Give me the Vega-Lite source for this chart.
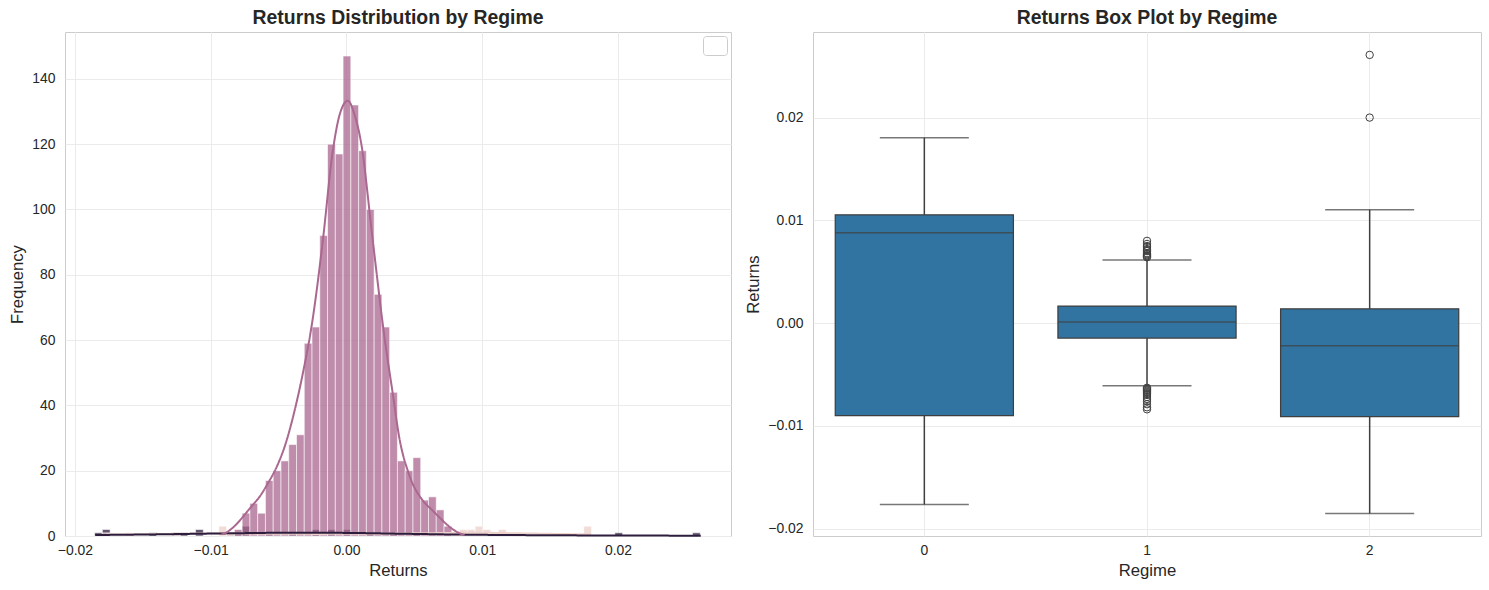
{
  "$schema": "https://vega.github.io/schema/vega-lite/v6.json",
  "background": "white",
  "padding": {"left": 9, "top": 7, "right": 9, "bottom": 8},
  "config": {
    "font": "Liberation Sans",
    "view": {"stroke": "#cccccc", "strokeWidth": 1},
    "axis": {
      "domain": false,
      "ticks": false,
      "tickSize": 0,
      "labelFontSize": 13.9,
      "labelColor": "#262626",
      "labelPadding": 10,
      "titleFontSize": 16.7,
      "titleFontWeight": "normal",
      "titleColor": "#262626",
      "titlePadding": 5,
      "gridColor": "#ebebeb",
      "gridWidth": 1
    },
    "axisX": {"labelPadding": 7, "titlePadding": 6},
    "title": {"fontSize": 19.4, "fontWeight": "bold", "color": "#262626", "offset": 4},
    "concat": {"spacing": 13}
  },
  "resolve": {
    "legend": {"strokeDash": "independent", "color": "independent"},
    "scale": {"strokeDash": "independent", "color": "independent"}
  },
  "datasets": {
    "hist": [
      {"r": "2", "x0": -0.01855, "x1": -0.017978, "n": 1},
      {"r": "2", "x0": -0.017978, "x1": -0.017406, "n": 2},
      {"r": "2", "x0": -0.014546, "x1": -0.013974, "n": 1},
      {"r": "2", "x0": -0.01283, "x1": -0.012258, "n": 1},
      {"r": "2", "x0": -0.012258, "x1": -0.011686, "n": 1},
      {"r": "2", "x0": -0.011114, "x1": -0.010542, "n": 2},
      {"r": "2", "x0": -0.008254, "x1": -0.007682, "n": 1},
      {"r": "2", "x0": -0.007682, "x1": -0.00711, "n": 3},
      {"r": "2", "x0": -0.005966, "x1": -0.005394, "n": 1},
      {"r": "2", "x0": -0.00425, "x1": -0.003678, "n": 1},
      {"r": "2", "x0": -0.002534, "x1": -0.001962, "n": 2},
      {"r": "2", "x0": -0.00139, "x1": -0.000818, "n": 2},
      {"r": "2", "x0": -0.000246, "x1": 0.000326, "n": 2},
      {"r": "2", "x0": 0.00147, "x1": 0.002042, "n": 1},
      {"r": "2", "x0": 0.003186, "x1": 0.003758, "n": 1},
      {"r": "2", "x0": 0.004902, "x1": 0.005474, "n": 1},
      {"r": "2", "x0": 0.010622, "x1": 0.011194, "n": 1},
      {"r": "2", "x0": 0.019774, "x1": 0.020346, "n": 1},
      {"r": "2", "x0": 0.025494, "x1": 0.026066, "n": 1},
      {"r": "1", "x0": -0.008826, "x1": -0.008254, "n": 1},
      {"r": "1", "x0": -0.008254, "x1": -0.007682, "n": 2},
      {"r": "1", "x0": -0.007682, "x1": -0.00711, "n": 7},
      {"r": "1", "x0": -0.00711, "x1": -0.006538, "n": 10},
      {"r": "1", "x0": -0.006538, "x1": -0.005966, "n": 7},
      {"r": "1", "x0": -0.005966, "x1": -0.005394, "n": 17},
      {"r": "1", "x0": -0.005394, "x1": -0.004822, "n": 20},
      {"r": "1", "x0": -0.004822, "x1": -0.00425, "n": 23},
      {"r": "1", "x0": -0.00425, "x1": -0.003678, "n": 28},
      {"r": "1", "x0": -0.003678, "x1": -0.003106, "n": 31},
      {"r": "1", "x0": -0.003106, "x1": -0.002534, "n": 59},
      {"r": "1", "x0": -0.002534, "x1": -0.001962, "n": 64},
      {"r": "1", "x0": -0.001962, "x1": -0.00139, "n": 92},
      {"r": "1", "x0": -0.00139, "x1": -0.000818, "n": 120},
      {"r": "1", "x0": -0.000818, "x1": -0.000246, "n": 117},
      {"r": "1", "x0": -0.000246, "x1": 0.000326, "n": 147},
      {"r": "1", "x0": 0.000326, "x1": 0.000898, "n": 132},
      {"r": "1", "x0": 0.000898, "x1": 0.00147, "n": 118},
      {"r": "1", "x0": 0.00147, "x1": 0.002042, "n": 100},
      {"r": "1", "x0": 0.002042, "x1": 0.002614, "n": 74},
      {"r": "1", "x0": 0.002614, "x1": 0.003186, "n": 64},
      {"r": "1", "x0": 0.003186, "x1": 0.003758, "n": 44},
      {"r": "1", "x0": 0.003758, "x1": 0.00433, "n": 23},
      {"r": "1", "x0": 0.00433, "x1": 0.004902, "n": 20},
      {"r": "1", "x0": 0.004902, "x1": 0.005474, "n": 24},
      {"r": "1", "x0": 0.005474, "x1": 0.006046, "n": 11},
      {"r": "1", "x0": 0.006046, "x1": 0.006618, "n": 12},
      {"r": "1", "x0": 0.006618, "x1": 0.00719, "n": 8},
      {"r": "1", "x0": 0.00719, "x1": 0.007762, "n": 3},
      {"r": "1", "x0": 0.007762, "x1": 0.008334, "n": 1},
      {"r": "0", "x0": -0.017978, "x1": -0.017406, "n": 1},
      {"r": "0", "x0": -0.016262, "x1": -0.01569, "n": 1},
      {"r": "0", "x0": -0.01283, "x1": -0.012258, "n": 1},
      {"r": "0", "x0": -0.009398, "x1": -0.008826, "n": 3},
      {"r": "0", "x0": -0.008826, "x1": -0.008254, "n": 1},
      {"r": "0", "x0": 0.007762, "x1": 0.008334, "n": 1},
      {"r": "0", "x0": 0.008334, "x1": 0.008906, "n": 2},
      {"r": "0", "x0": 0.008906, "x1": 0.009478, "n": 2},
      {"r": "0", "x0": 0.009478, "x1": 0.01005, "n": 3},
      {"r": "0", "x0": 0.01005, "x1": 0.010622, "n": 2},
      {"r": "0", "x0": 0.010622, "x1": 0.011194, "n": 1},
      {"r": "0", "x0": 0.011194, "x1": 0.011766, "n": 2},
      {"r": "0", "x0": 0.011766, "x1": 0.012338, "n": 1},
      {"r": "0", "x0": 0.01291, "x1": 0.013482, "n": 1},
      {"r": "0", "x0": 0.017486, "x1": 0.018058, "n": 3}
    ],
    "kde": [
      {"r": "0", "x": -0.0177, "n": 0.5},
      {"r": "0", "x": -0.014, "n": 0.6},
      {"r": "0", "x": -0.011, "n": 0.75},
      {"r": "0", "x": -0.009, "n": 0.8},
      {"r": "0", "x": -0.006, "n": 0.7},
      {"r": "0", "x": -0.002, "n": 0.65},
      {"r": "0", "x": 0.002, "n": 0.7},
      {"r": "0", "x": 0.006, "n": 0.85},
      {"r": "0", "x": 0.0095, "n": 1.0},
      {"r": "0", "x": 0.013, "n": 0.8},
      {"r": "0", "x": 0.016, "n": 0.6},
      {"r": "0", "x": 0.018, "n": 0.5},
      {"r": "2", "x": -0.0185, "n": 0.3},
      {"r": "2", "x": -0.014, "n": 0.5},
      {"r": "2", "x": -0.009, "n": 0.8},
      {"r": "2", "x": -0.004, "n": 1.0},
      {"r": "2", "x": 0.0, "n": 0.95},
      {"r": "2", "x": 0.004, "n": 0.7},
      {"r": "2", "x": 0.009, "n": 0.4},
      {"r": "2", "x": 0.014, "n": 0.25},
      {"r": "2", "x": 0.02, "n": 0.15},
      {"r": "2", "x": 0.0261, "n": 0.1},
      {"r": "1", "x": -0.0092, "n": 0.5},
      {"r": "1", "x": -0.0088, "n": 1.2},
      {"r": "1", "x": -0.0083, "n": 2.8},
      {"r": "1", "x": -0.0078, "n": 5},
      {"r": "1", "x": -0.0074, "n": 7},
      {"r": "1", "x": -0.0069, "n": 9.5},
      {"r": "1", "x": -0.0064, "n": 12},
      {"r": "1", "x": -0.0058, "n": 16},
      {"r": "1", "x": -0.0051, "n": 21.5},
      {"r": "1", "x": -0.0045, "n": 28},
      {"r": "1", "x": -0.0039, "n": 37},
      {"r": "1", "x": -0.0032, "n": 50},
      {"r": "1", "x": -0.0025, "n": 66},
      {"r": "1", "x": -0.00175, "n": 90},
      {"r": "1", "x": -0.001, "n": 118},
      {"r": "1", "x": -0.0005, "n": 129},
      {"r": "1", "x": 0.0001, "n": 133.3},
      {"r": "1", "x": 0.0006, "n": 129},
      {"r": "1", "x": 0.0011, "n": 120},
      {"r": "1", "x": 0.0019, "n": 92},
      {"r": "1", "x": 0.0028, "n": 61},
      {"r": "1", "x": 0.0034, "n": 44},
      {"r": "1", "x": 0.0039, "n": 30},
      {"r": "1", "x": 0.0046, "n": 19},
      {"r": "1", "x": 0.0056, "n": 11},
      {"r": "1", "x": 0.0063, "n": 8},
      {"r": "1", "x": 0.0069, "n": 5.5},
      {"r": "1", "x": 0.0076, "n": 2.8},
      {"r": "1", "x": 0.0083, "n": 0.9},
      {"r": "1", "x": 0.0087, "n": 0.3}
    ],
    "box": [
      {"r": "0", "lo": -0.01767, "q1": -0.00902, "med": 0.00878, "q3": 0.01053, "hi": 0.01803},
      {"r": "1", "lo": -0.0061, "q1": -0.00146, "med": 0.0001, "q3": 0.00165, "hi": 0.00613},
      {"r": "2", "lo": -0.01855, "q1": -0.00911, "med": -0.00221, "q3": 0.00139, "hi": 0.01102}
    ],
    "outliers": [
      {"r": "1", "v": 0.0064},
      {"r": "1", "v": 0.0065},
      {"r": "1", "v": 0.0066},
      {"r": "1", "v": 0.0067},
      {"r": "1", "v": 0.0068},
      {"r": "1", "v": 0.007},
      {"r": "1", "v": 0.0071},
      {"r": "1", "v": 0.0072},
      {"r": "1", "v": 0.0074},
      {"r": "1", "v": 0.0075},
      {"r": "1", "v": 0.0077},
      {"r": "1", "v": 0.008},
      {"r": "1", "v": -0.0063},
      {"r": "1", "v": -0.0064},
      {"r": "1", "v": -0.0065},
      {"r": "1", "v": -0.0066},
      {"r": "1", "v": -0.0067},
      {"r": "1", "v": -0.0068},
      {"r": "1", "v": -0.0069},
      {"r": "1", "v": -0.007},
      {"r": "1", "v": -0.0072},
      {"r": "1", "v": -0.0074},
      {"r": "1", "v": -0.0076},
      {"r": "1", "v": -0.0079},
      {"r": "1", "v": -0.0082},
      {"r": "1", "v": -0.0084},
      {"r": "2", "v": 0.02},
      {"r": "2", "v": 0.0261}
    ]
  },
  "hconcat": [
    {
      "width": 666,
      "height": 504,
      "title": "Returns Distribution by Regime",
      "layer": [
        {
          "data": {"name": "hist"},
          "mark": {"type": "bar", "opacity": 0.75, "stroke": "white", "strokeWidth": 0.6},
          "encoding": {
            "x": {
              "field": "x0",
              "type": "quantitative",
              "scale": {"domain": [-0.02073, 0.02833], "nice": false, "zero": false},
              "axis": {"values": [-0.02, -0.01, 0, 0.01, 0.02], "format": ".2f", "title": "Returns"}
            },
            "x2": {"field": "x1"},
            "y": {
              "field": "n",
              "type": "quantitative",
              "stack": null,
              "scale": {"domain": [0, 154.35], "nice": false},
              "axis": {"values": [0, 20, 40, 60, 80, 100, 120, 140], "title": "Frequency"}
            },
            "y2": {"datum": 0},
            "color": {
              "field": "r",
              "type": "nominal",
              "scale": {"domain": ["0", "1", "2"], "range": ["#edd1cb", "#aa678f", "#2d1e3e"]},
              "legend": null
            }
          }
        },
        {
          "data": {"name": "kde"},
          "mark": {"type": "line", "strokeWidth": 2, "interpolate": "monotone"},
          "encoding": {
            "x": {"field": "x", "type": "quantitative"},
            "y": {"field": "n", "type": "quantitative"},
            "color": {"field": "r", "type": "nominal", "legend": null},
            "strokeDash": {
              "datum": "",
              "type": "nominal",
              "scale": {"range": [[1, 0]]},
              "legend": {
                "title": null,
                "orient": "top-right",
                "offset": 4,
                "padding": 7,
                "strokeColor": "#cccccc",
                "fillColor": "white",
                "cornerRadius": 3,
                "symbolOpacity": 0,
                "symbolSize": 0,
                "symbolStrokeWidth": 0,
                "labelOffset": 0,
                "labelFontSize": 0,
                "rowPadding": 0
              }
            }
          }
        }
      ]
    },
    {
      "width": 668,
      "height": 504,
      "title": "Returns Box Plot by Regime",
      "layer": [
        {
          "data": {"name": "box"},
          "mark": {"type": "rule", "color": "#3f3f3f", "strokeWidth": 1.5},
          "encoding": {
            "x": {
              "field": "r",
              "type": "nominal",
              "scale": {"domain": ["0", "1", "2"], "paddingInner": 0, "paddingOuter": 0},
              "axis": {"labelAngle": 0, "title": "Regime", "grid": true, "bandPosition": 0.5}
            },
            "y": {
              "field": "lo",
              "type": "quantitative",
              "scale": {"domain": [-0.02073, 0.02833], "nice": false, "zero": false},
              "axis": {"values": [-0.02, -0.01, 0, 0.01, 0.02], "format": ".2f", "title": "Returns"}
            },
            "y2": {"field": "hi"}
          }
        },
        {
          "data": {"name": "box"},
          "mark": {"type": "bar", "width": {"band": 0.8}, "fill": "#3274a1", "stroke": "#3f3f3f", "strokeWidth": 1.25},
          "encoding": {
            "x": {"field": "r", "type": "nominal"},
            "y": {"field": "q1", "type": "quantitative"},
            "y2": {"field": "q3"}
          }
        },
        {
          "data": {"name": "box"},
          "mark": {"type": "tick", "size": 178, "thickness": 1.5, "color": "#3f3f3f"},
          "encoding": {
            "x": {"field": "r", "type": "nominal"},
            "y": {"field": "med", "type": "quantitative"}
          }
        },
        {
          "data": {"name": "box"},
          "mark": {"type": "tick", "size": 89, "thickness": 1.5, "color": "#3f3f3f"},
          "encoding": {
            "x": {"field": "r", "type": "nominal"},
            "y": {"field": "lo", "type": "quantitative"}
          }
        },
        {
          "data": {"name": "box"},
          "mark": {"type": "tick", "size": 89, "thickness": 1.5, "color": "#3f3f3f"},
          "encoding": {
            "x": {"field": "r", "type": "nominal"},
            "y": {"field": "hi", "type": "quantitative"}
          }
        },
        {
          "data": {"name": "outliers"},
          "mark": {"type": "point", "shape": "circle", "filled": false, "size": 55, "stroke": "#3f3f3f", "strokeWidth": 1, "opacity": 1},
          "encoding": {
            "x": {"field": "r", "type": "nominal"},
            "y": {"field": "v", "type": "quantitative"}
          }
        }
      ]
    }
  ]
}
